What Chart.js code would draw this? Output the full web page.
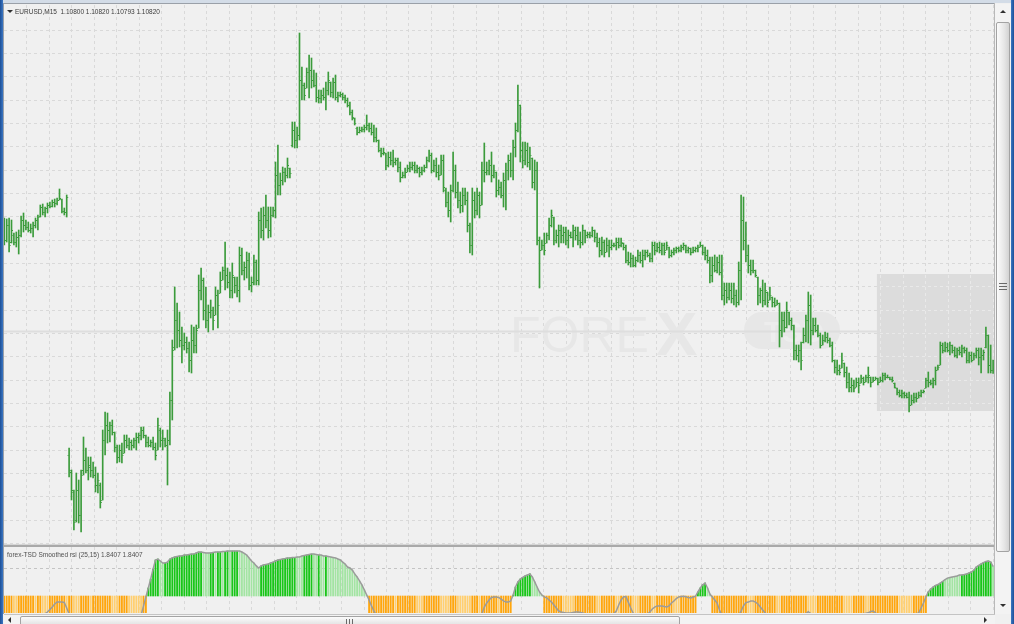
<!DOCTYPE html>
<html>
<head>
<meta charset="utf-8">
<script src="https://cdn.jsdelivr.net/npm/chart.js@4.4.0/dist/chart.umd.min.js"></script>
<style>
  body { margin:0; width:1014px; height:624px; overflow:hidden; position:relative; background:#f0f0f0; font-family:"Liberation Sans", Arial, sans-serif; }
  .abs { position:absolute; }
  #edgeL { left:0; top:0; width:3px; height:624px; background:linear-gradient(to right,#1d4f96,#3b77c4); }
  #edgeR { left:1011px; top:0; width:3px; height:624px; background:linear-gradient(to right,#3b77c4,#1d4f96); }
  #edgeT { left:3px; top:0; width:1008px; height:3px; background:#d3dce7; }
  #frameL { left:3px; top:3px; width:1px; height:611px; background:#9aa0a8; }
  #frameT { left:3px; top:3px; width:992px; height:1px; background:#9aa0a8; }
  #frameR { left:994px; top:3px; width:1px; height:611px; background:#b8b8b8; }
  #mainChart { left:4px; top:5px; }
  #sep { left:4px; top:544px; width:990px; height:3px; background:#a9a9a9; border-top:1px solid #d6d6d6; box-sizing:border-box; }
  #indChart { left:4px; top:547px; }
  #hdr { left:15px; top:8px; font-size:6.5px; line-height:7px; color:#3a3a3a; white-space:pre; }
  #tri { left:7px; top:10px; width:0; height:0; border-left:3px solid transparent; border-right:3px solid transparent; border-top:3px solid #303030; }
  #indHdr { left:7px; top:551px; font-size:6.5px; line-height:7px; color:#505050; white-space:pre; }
  #vscroll { left:995px; top:4px; width:16px; height:610px; background:#f3f3f3; }
  #vthumb { left:996px; top:22px; width:14px; height:530px; border:1px solid #a3a3a3; border-radius:2px; box-sizing:border-box; background:linear-gradient(to right,#fbfbfb,#e6e6e6 60%,#d2d2d2); }
  #vgrip { left:999px; top:283px; width:8px; height:8px; background:repeating-linear-gradient(to bottom,#6a6a6a 0 1px,transparent 1px 3px); }
  #hscroll { left:4px; top:614px; width:991px; height:10px; background:#f3f3f3; border-top:1px solid #c4c4c4; box-sizing:border-box; }
  #hthumb { left:20px; top:616px; width:660px; height:10px; border:1px solid #a3a3a3; border-radius:2px; box-sizing:border-box; background:linear-gradient(to bottom,#fbfbfb,#e2e2e2); }
  #hgrip { left:346px; top:619px; width:8px; height:6px; background:repeating-linear-gradient(to right,#6a6a6a 0 1px,transparent 1px 3px); }
  .arrowUp { width:0; height:0; border-left:3px solid transparent; border-right:3px solid transparent; border-bottom:3px solid #303030; }
  .arrowDown { width:0; height:0; border-left:3px solid transparent; border-right:3px solid transparent; border-top:3px solid #303030; }
  .arrowLeft { width:0; height:0; border-top:3px solid transparent; border-bottom:3px solid transparent; border-right:3px solid #303030; }
  .arrowRight { width:0; height:0; border-top:3px solid transparent; border-bottom:3px solid transparent; border-left:3px solid #303030; }
</style>
</head>
<body>
<div id="edgeL" class="abs"></div>
<div id="edgeR" class="abs"></div>
<div id="edgeT" class="abs"></div>
<canvas id="mainChart" class="abs" width="990" height="539"></canvas>
<div id="sep" class="abs"></div>
<canvas id="indChart" class="abs" width="990" height="66"></canvas>
<div id="frameL" class="abs"></div>
<div id="frameT" class="abs"></div>
<div id="frameR" class="abs"></div>
<div id="tri" class="abs"></div>
<div id="hdr" class="abs">EURUSD,M15  1.10800 1.10820 1.10793 1.10820</div>
<div id="indHdr" class="abs">forex-TSD Smoothed rsi (25,15) 1.8407 1.8407</div>
<div id="vscroll" class="abs"></div>
<div class="abs arrowUp" style="left:1000px;top:10px"></div>
<div id="vthumb" class="abs"></div>
<div id="vgrip" class="abs"></div>
<div class="abs arrowDown" style="left:1000px;top:604px"></div>
<div id="hscroll" class="abs"></div>
<div class="abs arrowLeft" style="left:8px;top:617px"></div>
<div id="hthumb" class="abs"></div>
<div id="hgrip" class="abs"></div>
<div class="abs arrowRight" style="left:984px;top:617px"></div>
<script>
'use strict';

// EURUSD M15 bars, prices in points above 1.10000 (price = 1.1 + pts / 100000)
const BASE = 1.1;

const highs = [
  1104,1102,1104,1100,1074,1076,1080,1108,1114,1100,
  1096,1092,1096,1104,1110,1130,1132,1126,1134,1136,
  1140,1142,1144,1162,1142,1124,1150,644,600,560,
  594,580,600,666,644,626,626,616,606,594,
  574,680,716,714,696,700,676,650,650,654,
  670,670,664,660,664,674,674,686,686,670,
  666,660,666,654,704,684,680,664,680,756,
  860,966,934,916,886,874,866,856,890,886,
  890,990,1004,984,966,930,940,926,966,960,
  996,1006,1056,1004,996,1014,986,986,1046,1044,
  1016,1036,1034,986,1030,1020,1116,1124,1126,1150,
  1126,1126,1126,1216,1250,1194,1206,1204,1224,1204,
  1296,1296,1286,1474,1406,1374,1404,1430,1424,1400,
  1394,1360,1360,1364,1376,1396,1376,1384,1390,1356,
  1356,1354,1350,1344,1336,1320,1304,1286,1286,1286,
  1290,1310,1294,1294,1290,1284,1260,1244,1244,1234,
  1236,1236,1240,1224,1224,1216,1196,1204,1210,1216,
  1216,1216,1210,1206,1206,1210,1226,1240,1234,1220,
  1224,1210,1230,1230,1164,1156,1170,1236,1210,1176,
  1156,1164,1164,1156,1094,1164,1156,1164,1156,1216,
  1254,1216,1220,1236,1210,1196,1180,1176,1194,1214,
  1230,1234,1260,1294,1370,1330,1256,1256,1254,1246,
  1224,1220,1216,1066,1060,1074,1074,1104,1120,1106,
  1080,1090,1090,1086,1086,1080,1076,1090,1086,1086,
  1076,1090,1080,1076,1076,1086,1080,1074,1064,1066,
  1060,1064,1060,1060,1054,1064,1064,1064,1054,1050,
  1036,1034,1030,1026,1040,1036,1040,1040,1040,1034,
  1056,1056,1054,1056,1054,1054,1056,1046,1040,1044,
  1046,1046,1050,1054,1050,1046,1044,1046,1046,1050,
  1056,1050,1046,1040,1026,1026,1030,1026,1030,1030,
  974,974,974,974,974,960,1016,1150,1146,1096,
  1050,1020,1020,1000,986,964,980,974,956,966,
  946,944,940,934,916,916,936,916,904,890,
  850,850,856,884,910,956,950,904,904,890,
  874,870,876,874,864,856,820,820,810,834,
  814,806,794,784,780,784,784,790,786,790,
  806,786,786,786,784,786,794,794,790,786,
  786,774,764,760,760,756,754,756,750,754,
  754,756,760,760,784,796,780,784,806,810,
  856,854,856,854,856,850,846,844,846,850,
  846,844,836,836,834,844,844,844,840,886,
  870,850,820
];

const lows = [
  1050,1056,1036,1054,1050,1046,1032,1066,1076,1080,
  1076,1074,1066,1084,1080,1106,1110,1106,1114,1124,
  1126,1126,1130,1140,1114,1110,1106,586,540,480,
  496,494,476,590,594,580,586,584,556,554,
  524,540,630,654,656,670,636,614,616,614,
  634,644,640,640,644,640,654,660,664,646,
  646,646,640,620,640,646,640,646,570,650,
  700,840,844,846,814,840,834,796,794,834,
  834,884,940,900,884,876,904,880,910,884,
  954,980,960,964,944,944,954,946,936,990,
  980,984,960,956,970,970,970,1064,1060,1084,
  1064,1066,1106,1104,1150,1150,1170,1176,1184,1184,
  1246,1244,1244,1260,1340,1340,1364,1344,1364,1366,
  1336,1334,1334,1340,1320,1350,1346,1344,1340,1336,
  1346,1340,1334,1326,1310,1300,1290,1270,1274,1276,
  1276,1280,1276,1270,1256,1256,1236,1226,1230,1200,
  1206,1210,1206,1210,1196,1176,1184,1184,1196,1196,
  1200,1194,1194,1186,1190,1196,1204,1216,1194,1196,
  1186,1180,1190,1156,1126,1106,1096,1156,1144,1124,
  1114,1116,1130,1076,1034,1030,1104,1110,1104,1130,
  1176,1190,1190,1176,1184,1146,1150,1144,1126,1120,
  1180,1186,1180,1226,1276,1216,1204,1210,1206,1200,
  1164,1160,1050,964,1040,1030,1054,1060,1086,1050,
  1054,1046,1054,1054,1050,1044,1064,1046,1060,1050,
  1044,1050,1054,1064,1064,1066,1056,1046,1026,1030,
  1026,1036,1026,1040,1046,1040,1044,1046,1040,1014,
  1010,1006,1006,1006,1016,1014,1006,1020,1026,1016,
  1016,1030,1036,1034,1030,1030,1040,1024,1026,1030,
  1034,1036,1036,1040,1034,1034,1030,1034,1036,1036,
  1046,1030,1020,1014,974,976,996,994,990,940,
  930,934,940,934,930,926,930,940,1040,1016,
  994,990,994,986,930,934,926,930,926,940,
  926,926,930,846,866,876,884,890,880,820,
  820,816,800,854,856,854,850,870,876,866,
  844,850,856,854,846,816,794,790,790,804,
  786,764,756,756,756,766,754,774,770,776,
  774,766,776,780,770,776,776,780,784,780,
  776,764,750,746,744,744,744,716,730,734,
  736,744,746,754,764,766,770,764,770,800,
  810,834,836,836,830,834,826,824,830,826,
  834,814,814,816,820,824,810,794,820,844,
  794,794,793
];

const opens = [
  1080,1060,1090,1056,1070,1056,1066,1070,1100,1090,
  1086,1080,1084,1090,1100,1108,1126,1116,1124,1130,
  1128,1136,1134,1140,1142,1118,1116,630,596,556,
  500,560,510,600,620,600,606,600,590,570,
  570,540,660,690,680,690,676,646,626,640,
  634,660,650,656,650,660,666,670,680,670,
  656,650,656,646,640,680,660,660,650,660,
  740,846,900,880,860,850,856,844,820,860,
  850,884,960,980,920,900,916,920,910,950,
  954,980,1000,990,976,960,986,970,960,1030,
  1000,1006,1020,970,976,1016,980,1100,1080,1110,
  1100,1080,1110,1120,1190,1170,1180,1196,1190,1204,
  1250,1280,1260,1270,1380,1370,1364,1396,1400,1380,
  1370,1346,1344,1350,1346,1360,1376,1356,1376,1346,
  1350,1352,1346,1340,1330,1316,1304,1284,1276,1280,
  1282,1286,1290,1284,1276,1266,1260,1240,1234,1234,
  1210,1226,1220,1216,1220,1206,1186,1190,1196,1204,
  1206,1210,1200,1204,1196,1200,1206,1220,1230,1200,
  1210,1196,1190,1220,1160,1136,1120,1160,1200,1156,
  1140,1130,1150,1140,1090,1050,1140,1120,1150,1130,
  1200,1196,1200,1210,1190,1196,1160,1166,1150,1180,
  1200,1220,1200,1246,1280,1330,1240,1220,1240,1216,
  1224,1176,1200,1060,1040,1050,1054,1070,1090,1106,
  1060,1070,1080,1070,1076,1060,1070,1066,1080,1070,
  1060,1056,1080,1070,1072,1070,1080,1066,1056,1040,
  1056,1036,1050,1046,1050,1050,1056,1050,1054,1046,
  1020,1016,1024,1010,1020,1030,1020,1030,1036,1030,
  1024,1050,1040,1046,1040,1050,1040,1046,1030,1036,
  1040,1044,1040,1046,1050,1040,1044,1036,1040,1044,
  1046,1050,1036,1030,1020,990,1010,1000,1016,996,
  950,960,946,960,944,950,936,1000,1100,1060,
  1030,1010,1000,1000,986,950,960,940,956,940,
  946,936,930,934,880,900,886,916,900,890,
  840,830,840,856,870,900,930,880,890,880,
  870,850,860,866,860,850,820,806,800,804,
  814,796,776,766,770,766,776,774,784,776,
  786,786,776,780,784,776,780,790,786,786,
  782,774,764,756,750,754,750,746,730,740,
  746,744,750,756,764,780,776,774,780,800,
  810,850,840,846,840,850,840,830,840,836,
  844,840,820,830,820,830,840,826,830,846,
  870,810,800
];

const closes = [
  1060,1090,1050,1080,1056,1066,1070,1100,1090,1086,
  1080,1084,1090,1100,1106,1126,1116,1124,1130,1128,
  1136,1134,1140,1144,1118,1116,1146,600,560,496,
  560,510,590,620,600,610,600,590,570,580,
  536,660,690,680,690,676,646,626,640,630,
  660,650,656,650,660,666,670,680,670,656,
  650,656,646,630,690,660,664,650,660,740,
  840,900,880,860,850,856,844,820,860,850,
  880,960,980,920,900,916,920,900,950,930,
  980,1000,990,976,960,990,970,960,1030,1000,
  1006,1020,970,976,1016,980,1100,1080,1110,1100,
  1080,1110,1120,1190,1170,1180,1196,1190,1210,1194,
  1280,1260,1270,1380,1370,1350,1396,1400,1380,1370,
  1346,1344,1350,1346,1360,1380,1356,1376,1346,1350,
  1352,1346,1340,1330,1316,1306,1294,1276,1280,1282,
  1286,1290,1284,1276,1266,1260,1240,1234,1236,1210,
  1226,1220,1216,1220,1206,1186,1190,1196,1204,1206,
  1210,1200,1204,1196,1200,1206,1220,1230,1200,1210,
  1196,1190,1220,1166,1136,1120,1160,1200,1156,1140,
  1130,1150,1140,1090,1050,1140,1120,1150,1130,1200,
  1196,1200,1210,1190,1200,1160,1166,1150,1180,1200,
  1220,1200,1246,1280,1340,1240,1220,1240,1216,1230,
  1176,1200,1060,1040,1050,1040,1070,1090,1110,1060,
  1070,1080,1070,1076,1060,1070,1066,1080,1070,1060,
  1056,1080,1070,1072,1070,1080,1066,1056,1040,1056,
  1036,1050,1046,1050,1050,1056,1050,1056,1046,1020,
  1016,1024,1010,1020,1030,1020,1030,1036,1030,1024,
  1050,1040,1046,1040,1050,1036,1050,1030,1036,1040,
  1044,1040,1046,1050,1040,1044,1036,1040,1044,1046,
  1050,1036,1030,1020,990,1010,1000,1016,996,950,
  960,946,960,944,950,936,1000,1100,1060,1030,
  1010,1000,1000,990,950,960,940,960,936,950,
  936,930,934,880,900,886,920,900,890,840,
  830,840,820,870,900,930,880,890,880,870,
  850,860,866,860,850,820,806,800,796,820,
  796,776,766,770,764,776,770,784,776,786,
  790,776,780,784,776,780,790,786,786,782,
  780,766,756,750,754,750,746,730,740,746,
  744,750,756,758,780,776,774,780,800,806,
  850,840,846,840,850,840,830,840,836,844,
  840,820,830,820,830,840,826,830,836,870,
  810,800,820
];

// forex-TSD Smoothed rsi (25,15), one value per bar
const rsiValues = [
  -1.6,-1.7,-1.8,-1.8,-1.9,-1.9,-1.8,-1.7,-1.6,-1.6,
  -1.5,-1.5,-1.4,-1.4,-1.3,-1.3,-1.2,-1.1,-1.0,-0.84,
  -0.69,-0.5,-0.38,-0.38,-0.38,-0.4,-0.75,-1.12,-1.4,-1.6,
  -1.8,-2.0,-2.1,-2.1,-2.0,-2.0,-1.9,-1.9,-1.9,-2.0,
  -2.0,-1.8,-1.7,-1.6,-1.6,-1.6,-1.6,-1.7,-1.7,-1.7,
  -1.7,-1.6,-1.6,-1.5,-1.5,-1.4,-1.3,-1.2,-0.63,-0.06,
  0.5,1.06,1.69,2.25,2.31,2.19,2.06,2.06,2.12,2.31,
  2.38,2.44,2.47,2.5,2.5,2.56,2.56,2.59,2.62,2.62,
  2.69,2.75,2.75,2.72,2.69,2.69,2.69,2.72,2.75,2.75,
  2.75,2.78,2.78,2.81,2.81,2.81,2.81,2.81,2.81,2.75,
  2.66,2.56,2.38,2.19,2.06,1.88,1.75,1.88,1.94,1.97,
  2.0,2.06,2.12,2.19,2.25,2.28,2.31,2.34,2.38,2.38,
  2.41,2.41,2.44,2.44,2.5,2.53,2.56,2.59,2.62,2.62,
  2.59,2.56,2.56,2.5,2.5,2.47,2.44,2.41,2.38,2.31,
  2.25,2.12,2.0,1.81,1.75,1.62,1.38,1.19,0.94,0.69,
  0.38,0.06,-0.25,-0.62,-0.94,-1.2,-1.4,-1.6,-1.8,-2.0,
  -2.1,-2.2,-2.3,-2.3,-2.3,-2.2,-2.2,-2.1,-2.1,-2.0,
  -2.0,-2.0,-1.9,-1.9,-1.9,-1.8,-1.8,-1.8,-1.8,-1.9,
  -2.0,-2.1,-2.2,-2.3,-2.3,-2.3,-2.2,-2.1,-2.0,-1.9,
  -1.8,-1.7,-1.6,-1.5,-1.5,-1.4,-1.3,-1.25,-1.2,-1.12,
  -0.69,-0.44,-0.25,-0.09,-0.06,-0.06,-0.09,-0.19,-0.31,-0.38,
  -0.38,-0.31,0.06,0.56,0.88,1.06,1.16,1.25,1.31,1.38,
  1.19,0.88,0.56,0.25,0.06,-0.06,-0.12,-0.25,-0.38,-0.56,
  -0.75,-0.94,-1.0,-1.03,-1.06,-1.06,-1.06,-1.03,-1.0,-1.0,
  -1.03,-1.06,-1.1,-1.2,-1.3,-1.4,-1.5,-1.5,-1.5,-1.4,
  -1.4,-1.3,-1.2,-1.15,-1.1,-0.94,-0.56,-0.25,-0.06,-0.03,
  -0.38,-0.75,-1.06,-1.2,-1.3,-1.3,-1.25,-1.15,-1.12,-1.0,
  -0.81,-0.69,-0.62,-0.62,-0.62,-0.66,-0.69,-0.62,-0.44,-0.31,
  -0.16,-0.06,-0.03,-0.02,-0.05,-0.1,-0.12,-0.06,-0.02,0.25,
  0.5,0.7,0.81,0.5,0.12,-0.06,-0.25,-0.44,-0.88,-1.19,
  -1.4,-1.6,-1.7,-1.7,-1.6,-1.4,-1.2,-0.94,-0.62,-0.41,
  -0.38,-0.31,-0.31,-0.38,-0.5,-0.69,-0.88,-1.06,-1.3,-1.5,
  -1.7,-1.8,-1.9,-2.0,-2.0,-1.9,-1.8,-1.7,-1.6,-1.5,
  -1.4,-1.3,-1.2,-1.15,-1.1,-0.98,-1.1,-1.2,-1.3,-1.4,
  -1.5,-1.6,-1.6,-1.7,-1.8,-1.9,-1.9,-1.8,-1.7,-1.6,
  -1.5,-1.4,-1.3,-1.3,-1.2,-1.2,-1.15,-1.12,-1.1,-1.08,
  -1.05,-0.97,-0.94,-1.05,-1.2,-1.3,-1.4,-1.5,-1.6,-1.7,
  -1.8,-1.8,-1.7,-1.6,-1.5,-1.4,-1.3,-1.25,-1.2,-1.15,
  -1.1,-1.06,-0.75,-0.44,-0.06,0.25,0.44,0.56,0.66,0.72,
  0.81,0.91,1.03,1.12,1.16,1.19,1.22,1.25,1.31,1.31,
  1.34,1.38,1.44,1.5,1.62,1.81,1.91,2.0,2.09,2.16,
  2.19,2.12,1.84
];

// histogram shade per bar: D = strong colour, L = pale colour
const rsiShade = [
  'DDDDLLDDDD','DDDLDDLLLD','DDDDDDLDDL','LLDDDDLDDD','DDDDDLLLDD','DDLLLLLLDD',
  'DDDDDLLDDD','DDDDDDDDDD','DDDLLLDDLD','DLDDLDDDLL','LLLLLLLDDD','DDDDDDDDDD',
  'DDLLLDDDDL','LDLLDLLLLL','LLLLLLLLLLLL',
  'DDDDDDDDDD','DLDDDDDDDD','LLLDDDDDDD','LLLLDDDLLL','LLLDDDLDDD','DDDDLDDDDD',
  'DDDDDDDDLLLLL',
  'DDDDDDDDLL','LLLDDDDDDD','DDLLDDDDDD','LLDDDDDLLL','DDDDDLLDDD','DDDDLLLDDD','DDDD',
  'DDDDLL',
  'DDDDDDDDDD','DDDDDLLLDD','DDDDDDDLLD','DDDDDDDDDD','LLLLDDDDDD','DDDDDLLLLD',
  'DDDDLLDDDD','DDDDDDDDLL','LLLLDDDDDD',
  'DDDDDDDLLL','LLLLDDDDDD','DDDDDDDL'
].join('');

// chart decorations, in data units
const LEVEL_LINE_PTS = 876;
const ZONE = { from: 363.6, to: 412.6, top: 992, bottom: 718 };

const BAR_COLOR = '#3b9b3b';
const GRID_COLOR = '#d9d9d9';

const toPrice = (p) => BASE + p / 100000;

const X_MIN = -0.125;
const X_MAX = X_MIN + 990 / 2.4;

function xGridTicks(scale) {
  const ticks = [];
  for (let v = 9.458; v < X_MAX; v += 9.3625) ticks.push({ value: v });
  scale.ticks = ticks;
}

function yGridTicks(scale) {
  const ticks = [];
  for (let p = 1480; p > 452; p -= 46.667) ticks.push({ value: toPrice(p) });
  scale.ticks = ticks;
}

function alignPx(v) {
  return Math.round(v - 0.5) + 0.5;
}

const priceBars = highs.map((h, i) => ({ x: i, y: [toPrice(lows[i]), toPrice(h)] }));

const mainDecor = {
  id: 'mainDecor',
  beforeDatasetsDraw(chart) {
    const { ctx, chartArea: a, scales: { x, y } } = chart;
    ctx.save();

    // watermark
    ctx.fillStyle = '#e7e7e7';
    ctx.font = '50px "Liberation Sans", sans-serif';
    ctx.fillText('FORE', a.left + 506, a.top + 347);
    ctx.font = 'bold 62px "Liberation Sans", sans-serif';
    ctx.fillText('X', a.left + 652, a.top + 350);
    ctx.beginPath();
    ctx.roundRect(a.left + 740, a.top + 307, 96, 37, 18);
    ctx.fill();
    ctx.fillStyle = '#ededed';
    ctx.font = 'bold 30px "Liberation Sans", sans-serif';
    ctx.fillText('TSD', a.left + 760, a.top + 337);

    const zx0 = x.getPixelForValue(ZONE.from);
    const zx1 = x.getPixelForValue(ZONE.to);
    const zy0 = y.getPixelForValue(toPrice(ZONE.top));
    const zy1 = y.getPixelForValue(toPrice(ZONE.bottom));

    // horizontal level line
    const ly = alignPx(y.getPixelForValue(toPrice(LEVEL_LINE_PTS)));
    ctx.strokeStyle = '#dedede';
    ctx.lineWidth = 2;
    ctx.beginPath();
    ctx.moveTo(a.left, ly);
    ctx.lineTo(zx0, ly);
    ctx.stroke();

    // shaded zone
    ctx.fillStyle = '#dcdcdc';
    ctx.fillRect(zx0, zy0, zx1 - zx0, zy1 - zy0);
    ctx.beginPath();
    ctx.rect(zx0, zy0, zx1 - zx0, zy1 - zy0);
    ctx.clip();
    ctx.strokeStyle = '#e9e9e9';
    ctx.lineWidth = 1;
    ctx.setLineDash([3, 3]);
    x.ticks.forEach((t) => {
      const px = alignPx(x.getPixelForValue(t.value));
      ctx.beginPath(); ctx.moveTo(px, a.top); ctx.lineTo(px, a.bottom); ctx.stroke();
    });
    y.ticks.forEach((t) => {
      const py = alignPx(y.getPixelForValue(t.value));
      ctx.beginPath(); ctx.moveTo(a.left, py); ctx.lineTo(a.right, py); ctx.stroke();
    });
    ctx.restore();
  },
  afterDatasetsDraw(chart) {
    // open tick on the left, close tick on the right
    const { ctx, scales: { x, y } } = chart;
    ctx.save();
    ctx.fillStyle = BAR_COLOR;
    for (let i = 0; i < highs.length; i++) {
      const px = x.getPixelForValue(i);
      const yo = Math.round(y.getPixelForValue(toPrice(opens[i])));
      const yc = Math.round(y.getPixelForValue(toPrice(closes[i])));
      ctx.fillRect(px - 1.5, yo, 1, 1);
      ctx.fillRect(px + 0.5, yc, 1, 1);
    }
    ctx.restore();
  }
};

const mainChart = new Chart(document.getElementById('mainChart'), {
  type: 'bar',
  data: {
    datasets: [{
      data: priceBars,
      backgroundColor: BAR_COLOR,
      barThickness: 1
    }]
  },
  options: {
    responsive: false,
    animation: false,
    layout: { padding: 0 },
    plugins: { legend: { display: false }, tooltip: { enabled: false } },
    scales: {
      x: {
        type: 'linear', min: X_MIN, max: X_MAX, offset: false,
        afterBuildTicks: xGridTicks,
        ticks: { display: false },
        grid: { color: GRID_COLOR, drawTicks: false, offset: false },
        border: { display: false, dash: [3, 3] }
      },
      y: {
        min: toPrice(452), max: toPrice(1530),
        afterBuildTicks: yGridTicks,
        ticks: { display: false },
        grid: { color: GRID_COLOR, drawTicks: false },
        border: { display: false, dash: [3, 3] }
      }
    }
  },
  plugins: [mainDecor]
});

// indicator panel
const histData = rsiValues.map((v, i) => ({ x: i, y: v > 0 ? [0, v] : [0, -3] }));
const histColors = rsiValues.map((v, i) => {
  const strong = rsiShade[i] !== 'L';
  if (v > 0) return strong ? '#19c619' : '#a3e4a3';
  return strong ? '#ffa60d' : '#ffcf70';
});
const rsiLine = rsiValues.map((v, i) => ({ x: i, y: v }));

const indChart = new Chart(document.getElementById('indChart'), {
  type: 'bar',
  data: {
    datasets: [
      {
        type: 'line',
        data: rsiLine,
        borderColor: '#9b9b9b',
        borderWidth: 1.5,
        pointRadius: 0,
        tension: 0,
        order: 0
      },
      {
        data: histData,
        backgroundColor: histColors,
        barThickness: 1.2,
        order: 1
      }
    ]
  },
  options: {
    responsive: false,
    animation: false,
    layout: { padding: 0 },
    plugins: { legend: { display: false }, tooltip: { enabled: false } },
    scales: {
      x: {
        type: 'linear', min: X_MIN, max: X_MAX, offset: false,
        afterBuildTicks: xGridTicks,
        ticks: { display: false },
        grid: { color: GRID_COLOR, drawTicks: false, offset: false },
        border: { display: false, dash: [3, 3] }
      },
      y: {
        min: -1.0625, max: 3.0625,
        afterBuildTicks: (scale) => { scale.ticks = [{ value: 1.75 }]; },
        ticks: { display: false },
        grid: { color: '#c4c4c4', drawTicks: false },
        border: { display: false, dash: [3, 3] }
      }
    }
  }
});
</script>
</body>
</html>
